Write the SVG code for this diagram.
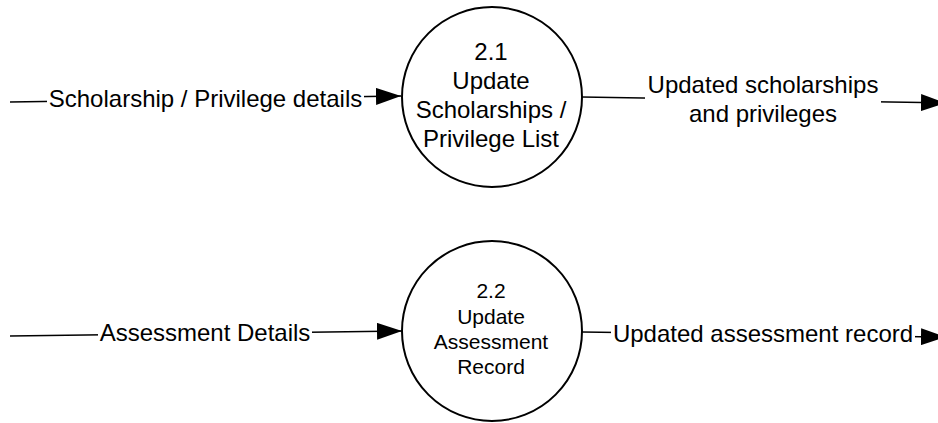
<svg xmlns="http://www.w3.org/2000/svg" width="938" height="423" viewBox="0 0 938 423">
  <defs>
    <marker id="arrow" markerUnits="userSpaceOnUse" markerWidth="25" markerHeight="17" refX="25" refY="8.5" orient="auto">
      <path d="M0,0 L25,8.5 L0,17 z" fill="#000"/>
    </marker>
    <style>
      .proc { fill: #fff; stroke: #000; stroke-width: 2; }
      .flow { fill: none; stroke: #000; stroke-width: 1.5; marker-end: url(#arrow); }
      .lbl { font-family: "Liberation Sans", Arial, sans-serif; font-size: 24px; fill: #000; text-anchor: middle; }
      .lbl2 { font-family: "Liberation Sans", Arial, sans-serif; font-size: 21px; fill: #000; text-anchor: middle; }
      .bg { fill: #fff; }
    </style>
  </defs>
  <rect width="938" height="423" fill="#fff"/>

  <g id="connectors">
    <g id="flow-scholarship-details">
      <line class="flow" x1="10" y1="102" x2="401" y2="96"/>
      <rect class="bg" x="47" y="86" width="317" height="27"/>
      <text class="lbl" x="205.5" y="107">Scholarship / Privilege details</text>
    </g>
    <g id="flow-updated-scholarships">
      <line class="flow" x1="582" y1="97" x2="946" y2="103"/>
      <rect class="bg" x="645" y="72" width="236" height="56"/>
      <text class="lbl" x="763" y="93">Updated scholarships</text>
      <text class="lbl" x="763" y="122">and privileges</text>
    </g>
    <g id="flow-assessment-details">
      <line class="flow" x1="10" y1="336" x2="402" y2="331"/>
      <rect class="bg" x="98" y="320" width="214" height="27"/>
      <text class="lbl" x="205" y="341">Assessment Details</text>
    </g>
    <g id="flow-updated-assessment">
      <line class="flow" x1="582" y1="332" x2="946" y2="337"/>
      <rect class="bg" x="611" y="321" width="304" height="27"/>
      <text class="lbl" x="763" y="342">Updated assessment record</text>
    </g>
  </g>

  <g id="node-2-1">
    <circle class="proc" cx="492" cy="97" r="90"/>
    <text class="lbl" x="491" y="60">2.1</text>
    <text class="lbl" x="491" y="89">Update</text>
    <text class="lbl" x="491" y="118">Scholarships /</text>
    <text class="lbl" x="491" y="147">Privilege List</text>
  </g>

  <g id="node-2-2">
    <circle class="proc" cx="492" cy="331" r="90"/>
    <text class="lbl2" x="491" y="298">2.2</text>
    <text class="lbl2" x="491" y="324">Update</text>
    <text class="lbl2" x="491" y="349">Assessment</text>
    <text class="lbl2" x="491" y="374">Record</text>
  </g>
</svg>
